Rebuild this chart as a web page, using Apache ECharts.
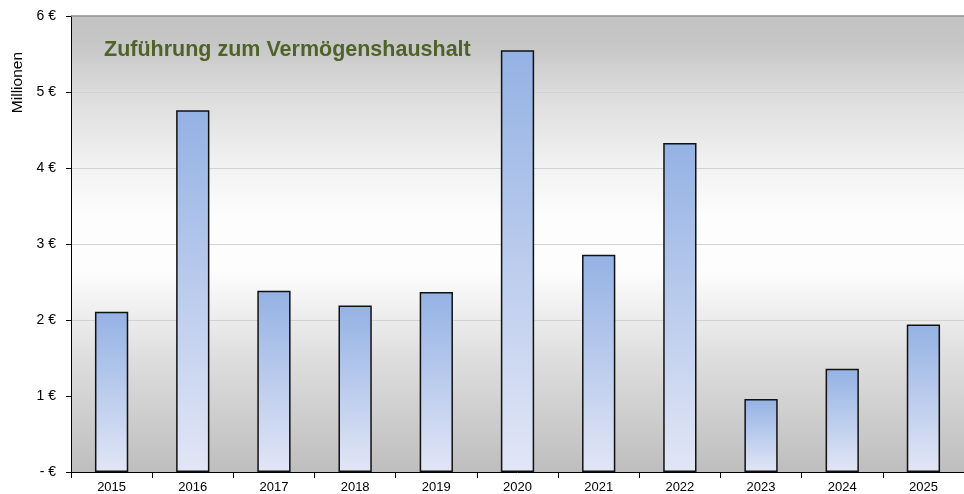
<!DOCTYPE html>
<html><head><meta charset="utf-8">
<script src="https://cdn.jsdelivr.net/npm/echarts@6/dist/echarts.min.js"></script>
<style>html,body{margin:0;padding:0;background:#fff}#c{width:964px;height:494px}</style>
</head><body><div id="c"></div>
<script>
const categories = ['2015','2016','2017','2018','2019','2020','2021','2022','2023','2024','2025'];
const values = [2.11, 4.76, 2.385, 2.19, 2.37, 5.55, 2.86, 4.33, 0.96, 1.36, 1.94];
const yTickLabels = ['- €','1 €','2 €','3 €','4 €','5 €','6 €'];
const titleText = 'Zuführung zum Vermögenshaushalt';
const yAxisName = 'Millionen';

const chart = echarts.init(document.getElementById('c'), null, {renderer:'canvas'});
chart.setOption({
  animation:false,
  backgroundColor:'#ffffff',
  title:{text:titleText,left:99,top:34,textStyle:{fontFamily:'Liberation Sans, Arial, sans-serif',fontSize:21.5,fontWeight:'bold',color:'#4f6228'}},
  grid:{left:71,right:0,top:16,bottom:20,show:true,borderWidth:0,
    backgroundColor:new echarts.graphic.LinearGradient(0,0,0,1,[
      {offset:0,color:'#c3c3c3'},{offset:0.06,color:'#c6c6c6'},{offset:0.17,color:'#dcdcdc'},
      {offset:0.33,color:'#f2f2f2'},{offset:0.44,color:'#fdfdfd'},{offset:0.56,color:'#fdfdfd'},
      {offset:0.75,color:'#dedede'},{offset:1,color:'#bebebe'}])},
  xAxis:{type:'category',data:categories,boundaryGap:true,
    axisLine:{lineStyle:{color:'#000',width:1}},
    axisTick:{show:true,length:6,lineStyle:{color:'#000'}},
    axisLabel:{color:'#000',fontFamily:'Liberation Sans, Arial, sans-serif',fontSize:13,margin:9}},
  yAxis:{type:'value',min:0,max:6,interval:1,
    axisLine:{show:true,lineStyle:{color:'#000',width:1}},
    axisTick:{show:true,inside:false,length:5,lineStyle:{color:'#000'}},
    splitLine:{show:true,lineStyle:{color:'#d2d2d2',width:1}},
    axisLabel:{color:'#000',fontFamily:'Liberation Sans, Arial, sans-serif',fontSize:14,margin:15,
      formatter:function(v){return yTickLabels[Math.round(v)];}}},
  series:[{type:'bar',data:values,barWidth:'41%',
    itemStyle:{borderColor:'#111',borderWidth:1.5,
      color:new echarts.graphic.LinearGradient(0,0,0,1,[{offset:0,color:'#94b2e4'},{offset:1,color:'#e2e6f6'}])}}],
  graphic:[
    {type:'line',shape:{x1:71,y1:16,x2:964,y2:16},style:{stroke:'#8c8c8c',lineWidth:1.5},z:10},
    {type:'text',left:10,top:52,rotation:Math.PI/2,style:{text:yAxisName,fontFamily:'Liberation Sans, Arial, sans-serif',fontSize:15.5,fill:'#000'}}
  ]
});
</script></body></html>
